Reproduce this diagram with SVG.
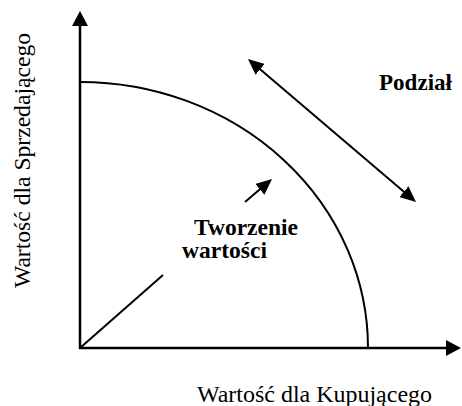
<svg xmlns="http://www.w3.org/2000/svg" width="462" height="406" viewBox="0 0 462 406">
  <style>
    .ln { stroke: #000; fill: none; stroke-width: 2; }
    .ax { stroke: #000; fill: none; stroke-width: 2.5; }
    .t { font-family: "Liberation Serif", "Times New Roman", serif; font-size: 23px; fill: #000; }
    .b { font-weight: bold; }
  </style>
  <defs>
    <marker id="axh" markerUnits="userSpaceOnUse" markerWidth="15" markerHeight="16" viewBox="0 0 15 16" refX="11" refY="8" orient="auto">
      <path d="M0,0 L15,8 L0,16 z" fill="#000"/>
    </marker>
    <marker id="ah" markerUnits="userSpaceOnUse" markerWidth="16" markerHeight="14" viewBox="0 0 16 14" refX="12" refY="7" orient="auto-start-reverse">
      <path d="M0,0 L16,7 L0,14 z" fill="#000"/>
    </marker>
  </defs>
  <g id="connectors">
    <line class="ax" x1="80" y1="349" x2="80" y2="15" marker-end="url(#axh)"/>
    <line class="ax" x1="79" y1="348" x2="457" y2="348" marker-end="url(#axh)"/>
    <path id="frontier" class="ln" d="M80,82 A288,266 0 0 1 368,348"/>
    <line class="ln" x1="80" y1="348" x2="163" y2="275"/>
    <line class="ln" x1="245" y1="202" x2="269" y2="181.6" marker-end="url(#ah)"/>
    <line class="ln" x1="251" y1="61.6" x2="413" y2="199.4" marker-start="url(#ah)" marker-end="url(#ah)"/>
  </g>
  <g id="podzial"><text class="t b" x="379" y="90" textLength="73" lengthAdjust="spacingAndGlyphs">Podział</text></g>
  <g id="tworzenie">
    <text class="t b" x="194" y="235" textLength="104" lengthAdjust="spacingAndGlyphs">Tworzenie</text>
    <text class="t b" x="182" y="258" textLength="85" lengthAdjust="spacingAndGlyphs">wartości</text>
  </g>
  <g id="xlabel"><text class="t" x="197" y="402" textLength="235" lengthAdjust="spacingAndGlyphs">Wartość dla Kupującego</text></g>
  <g id="ylabel"><text class="t" transform="translate(30,288) rotate(-90)" textLength="255" lengthAdjust="spacingAndGlyphs">Wartość dla Sprzedającego</text></g>
</svg>
